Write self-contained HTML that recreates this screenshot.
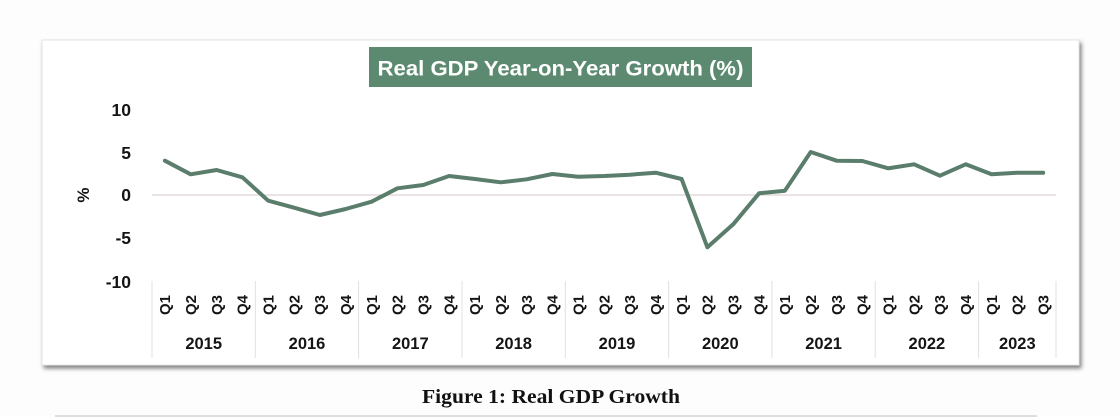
<!DOCTYPE html>
<html>
<head>
<meta charset="utf-8">
<style>
  html,body{margin:0;padding:0;background:#fdfdfd;}
  svg{display:block;}
  .lbl{font-family:"Liberation Sans",Arial,sans-serif;font-weight:bold;fill:#151515;}
</style>
</head>
<body>
<svg width="1120" height="417" viewBox="0 0 1120 417" xmlns="http://www.w3.org/2000/svg">
  <defs>
    <filter id="sh" x="-5%" y="-5%" width="112%" height="120%">
      <feGaussianBlur in="SourceAlpha" stdDeviation="2"/>
      <feOffset dx="2" dy="3" result="o"/>
      <feComponentTransfer><feFuncA type="linear" slope="0.5"/></feComponentTransfer>
      <feMerge><feMergeNode/><feMergeNode in="SourceGraphic"/></feMerge>
    </filter>
  </defs>
  <rect x="0" y="0" width="1120" height="417" fill="#fdfdfd"/>
  <!-- card -->
  <rect x="42" y="40" width="1037" height="325" fill="#ffffff" stroke="#e4e4e4" stroke-width="1" filter="url(#sh)"/>

  <!-- title -->
  <rect x="369" y="47" width="383" height="40" fill="#5c8a70"/>
  <text x="560.5" y="75.5" text-anchor="middle" font-family="Liberation Sans, Arial, sans-serif" font-weight="bold" font-size="21.5" fill="#ffffff" textLength="366" lengthAdjust="spacingAndGlyphs">Real GDP Year-on-Year Growth (%)</text>

  <!-- y labels -->
  <g class="lbl" font-size="17.5" text-anchor="end">
    <text x="131" y="116">10</text>
    <text x="131" y="159">5</text>
    <text x="131" y="201">0</text>
    <text x="131" y="244">-5</text>
    <text x="131" y="288">-10</text>
  </g>
  <text class="lbl" font-size="17" text-anchor="middle" transform="translate(89,195) rotate(-90)">%</text>

  <!-- zero line -->
  <line x1="152" y1="195" x2="1056" y2="195" stroke="#e3dada" stroke-width="1.5"/>

  <!-- separators -->
  <g stroke="#e0e0e0" stroke-width="1">
    <line x1="152" y1="281" x2="152" y2="358"/>
    <line x1="255.3" y1="281" x2="255.3" y2="358"/>
    <line x1="358.6" y1="281" x2="358.6" y2="358"/>
    <line x1="462" y1="281" x2="462" y2="358"/>
    <line x1="565.3" y1="281" x2="565.3" y2="358"/>
    <line x1="668.6" y1="281" x2="668.6" y2="358"/>
    <line x1="771.9" y1="281" x2="771.9" y2="358"/>
    <line x1="875.2" y1="281" x2="875.2" y2="358"/>
    <line x1="978.6" y1="281" x2="978.6" y2="358"/>
    <line x1="1056" y1="281" x2="1056" y2="358"/>
  </g>

  <!-- data line -->
  <polyline fill="none" stroke="#5b7d6c" stroke-width="4" stroke-linejoin="round" stroke-linecap="round"
    points="164.9,160.7 190.7,174.3 216.6,170 242.4,177.3 268.2,200.7 294.1,207.7 319.9,215 345.7,209 371.6,201.7 397.4,188.3 423.2,185 449.1,176 474.9,179 500.7,182.3 526.6,179.3 552.4,174 578.2,176.7 604.1,176 629.9,174.7 655.7,172.7 681.6,179 707.4,247.3 733.2,224.3 759.1,193.3 784.9,190.7 810.7,152 836.6,160.7 862.4,161 888.2,168.3 914.1,164.3 939.9,175.7 965.7,164.3 991.6,174.3 1017.4,172.7 1043.2,172.7"/>

  <!-- quarter labels -->
  <g class="lbl" font-size="15" text-anchor="middle">
    <text transform="translate(170.2,305) rotate(-90)">Q1</text>
    <text transform="translate(196,305) rotate(-90)">Q2</text>
    <text transform="translate(221.9,305) rotate(-90)">Q3</text>
    <text transform="translate(247.7,305) rotate(-90)">Q4</text>
    <text transform="translate(273.5,305) rotate(-90)">Q1</text>
    <text transform="translate(299.4,305) rotate(-90)">Q2</text>
    <text transform="translate(325.2,305) rotate(-90)">Q3</text>
    <text transform="translate(351,305) rotate(-90)">Q4</text>
    <text transform="translate(376.9,305) rotate(-90)">Q1</text>
    <text transform="translate(402.7,305) rotate(-90)">Q2</text>
    <text transform="translate(428.5,305) rotate(-90)">Q3</text>
    <text transform="translate(454.4,305) rotate(-90)">Q4</text>
    <text transform="translate(480.2,305) rotate(-90)">Q1</text>
    <text transform="translate(506,305) rotate(-90)">Q2</text>
    <text transform="translate(531.9,305) rotate(-90)">Q3</text>
    <text transform="translate(557.7,305) rotate(-90)">Q4</text>
    <text transform="translate(583.5,305) rotate(-90)">Q1</text>
    <text transform="translate(609.4,305) rotate(-90)">Q2</text>
    <text transform="translate(635.2,305) rotate(-90)">Q3</text>
    <text transform="translate(661,305) rotate(-90)">Q4</text>
    <text transform="translate(686.9,305) rotate(-90)">Q1</text>
    <text transform="translate(712.7,305) rotate(-90)">Q2</text>
    <text transform="translate(738.5,305) rotate(-90)">Q3</text>
    <text transform="translate(764.4,305) rotate(-90)">Q4</text>
    <text transform="translate(790.2,305) rotate(-90)">Q1</text>
    <text transform="translate(816,305) rotate(-90)">Q2</text>
    <text transform="translate(841.9,305) rotate(-90)">Q3</text>
    <text transform="translate(867.7,305) rotate(-90)">Q4</text>
    <text transform="translate(893.5,305) rotate(-90)">Q1</text>
    <text transform="translate(919.4,305) rotate(-90)">Q2</text>
    <text transform="translate(945.2,305) rotate(-90)">Q3</text>
    <text transform="translate(971,305) rotate(-90)">Q4</text>
    <text transform="translate(996.9,305) rotate(-90)">Q1</text>
    <text transform="translate(1022.7,305) rotate(-90)">Q2</text>
    <text transform="translate(1048.5,305) rotate(-90)">Q3</text>
  </g>

  <!-- year labels -->
  <g class="lbl" font-size="16.5" text-anchor="middle">
    <text x="203.7" y="349">2015</text>
    <text x="307" y="349">2016</text>
    <text x="410.3" y="349">2017</text>
    <text x="513.6" y="349">2018</text>
    <text x="617" y="349">2019</text>
    <text x="720.3" y="349">2020</text>
    <text x="823.6" y="349">2021</text>
    <text x="926.9" y="349">2022</text>
    <text x="1017.3" y="349">2023</text>
  </g>

  <!-- caption -->
  <text x="551" y="403" text-anchor="middle" font-family="Liberation Serif, 'Times New Roman', serif" font-weight="bold" font-size="20" fill="#111" textLength="258" lengthAdjust="spacingAndGlyphs">Figure 1: Real GDP Growth</text>
  <line x1="55" y1="416" x2="1037" y2="416" stroke="#cccccc" stroke-width="1.2"/>
</svg>
</body>
</html>
